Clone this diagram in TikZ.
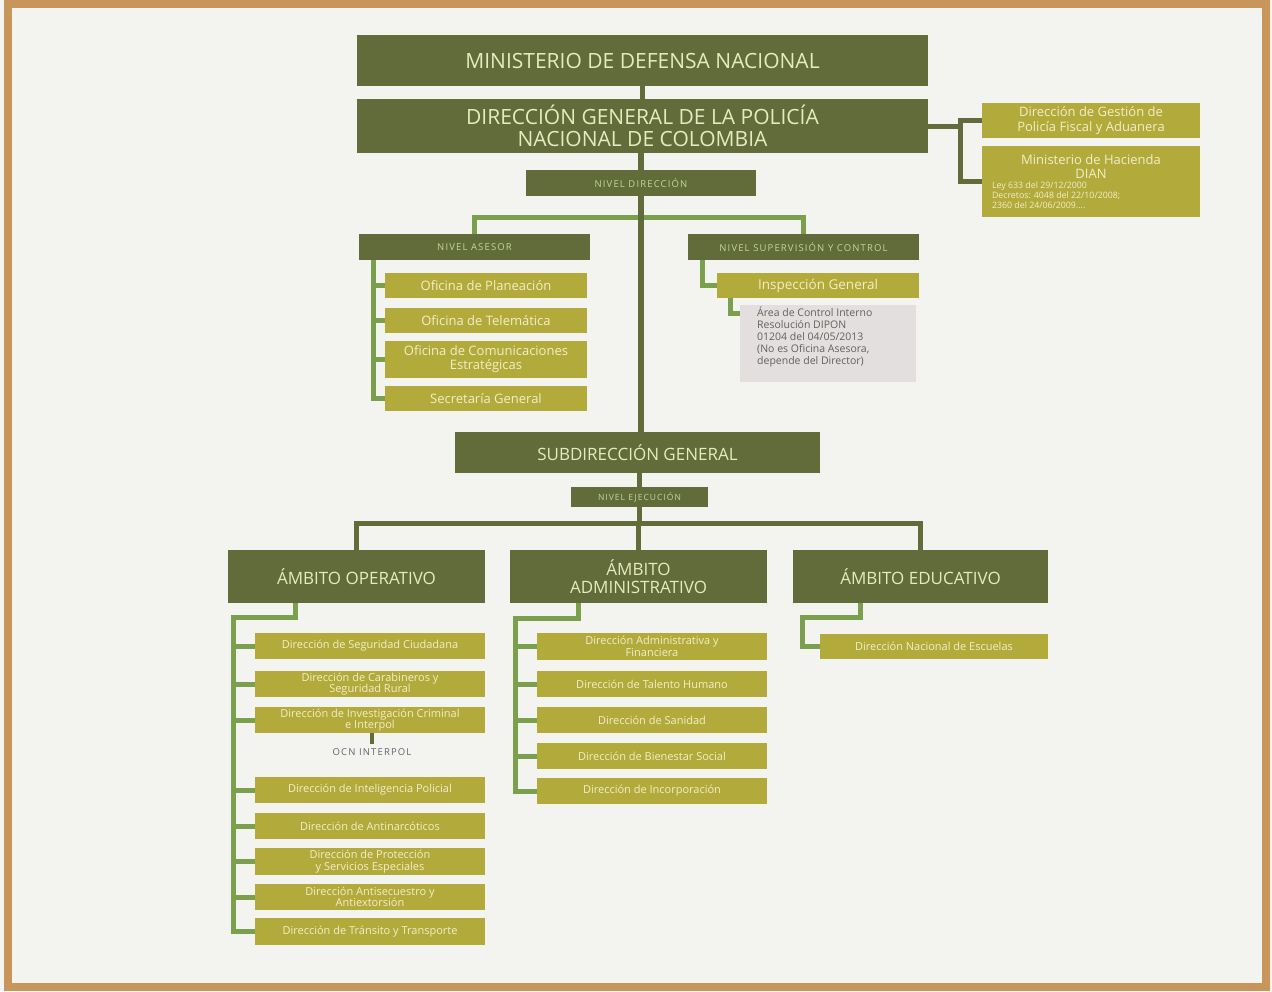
\documentclass[tikz,border=0pt]{standalone}
\usepackage{fontspec}
\setmainfont{Open Sans}
\newfontfamily\spacedfont[LetterSpace=12]{Open Sans}
\usetikzlibrary{calc,backgrounds}
\definecolor{oliveD}{RGB}{97,108,58}
\definecolor{yelB}{RGB}{178,171,60}
\definecolor{lgreen}{RGB}{122,160,78}
\definecolor{dtext}{RGB}{230,234,192}
\definecolor{ytext}{RGB}{242,238,200}
\definecolor{nivtext}{RGB}{195,214,155}
\definecolor{greyB}{RGB}{226,223,222}
\definecolor{greyT}{RGB}{100,96,94}
\definecolor{slateT}{RGB}{95,102,112}
\definecolor{pagebg}{RGB}{243,243,240}
\definecolor{frameC}{RGB}{200,150,90}
\begin{document}
\begin{tikzpicture}[x=1pt,y=-1pt,
  dbox/.style={fill=oliveD, text=dtext, inner sep=0pt, outer sep=0pt, align=center},
  ybox/.style={fill=yelB, text=ytext, inner sep=0pt, outer sep=0pt, align=center},
  niv/.style={dbox, text=nivtext, font=\spacedfont\fontsize{9.5}{10}\selectfont},
  asechild/.style={ybox, minimum width=202, minimum height=25, font=\fontsize{13}{14}\selectfont},
  ambito/.style={dbox, minimum width=257, minimum height=53, font=\fontsize{17}{18}\selectfont},
  dchild/.style={ybox, minimum width=230, minimum height=26, font=\fontsize{11}{11.5}\selectfont},
  trunk/.style={draw=oliveD, line width=5.5pt, line cap=rect},
  gline/.style={draw=lgreen, line width=5pt, line cap=rect}
]
\useasboundingbox (0,0) rectangle (1272,991);
\begin{scope}[on background layer]
  \fill[pagebg] (0,0) rectangle (1272,991);
\end{scope}

% top level
\node[dbox, minimum width=571, minimum height=51, font=\fontsize{21}{24}\selectfont] (min) at (642.5,60.5) {MINISTERIO DE DEFENSA NACIONAL};
\node[dbox, minimum width=571, minimum height=54, font=\fontsize{21}{22.5}\selectfont] (dg) at (642.5,126) {DIRECCIÓN GENERAL DE LA POLICÍA\\NACIONAL DE COLOMBIA};
\node[niv, minimum width=230, minimum height=26] (ndir) at (641,183) {NIVEL DIRECCIÓN};

% right side
\node[ybox, minimum width=218, minimum height=35, font=\fontsize{13}{15}\selectfont] (gest) at (1091,120.5) {Dirección de Gestión de\\Policía Fiscal y Aduanera};
\node[ybox, minimum width=218, minimum height=71] (hac) at (1091,181.5) {\begin{minipage}{198pt}
{\centering\fontsize{13}{14}\selectfont Ministerio de Hacienda\\DIAN\par}
{\raggedright\fontsize{8.8}{10}\selectfont Ley 633 del 29/12/2000\\Decretos: 4048 del 22/10/2008;\\2360 del 24/06/2009....\par}
\end{minipage}};

% level 2
\node[niv, minimum width=231, minimum height=26] (ase) at (474.5,247) {NIVEL ASESOR};
\node[niv, minimum width=231, minimum height=26] (sup) at (803.5,247) {NIVEL SUPERVISIÓN Y CONTROL};

\node[asechild] (plan) at (486,285.5) {Oficina de Planeación};
\node[asechild] (tele) at (486,320.5) {Oficina de Telemática};
\node[asechild, minimum height=37] (comu) at (486,359.5) {Oficina de Comunicaciones\\Estratégicas};
\node[asechild] (secr) at (486,398.5) {Secretaría General};

\node[ybox, minimum width=202, minimum height=25, font=\fontsize{13.5}{14}\selectfont] (insp) at (818,285.5) {Inspección General};
\node[fill=greyB, inner sep=0pt, outer sep=0pt, minimum width=176, minimum height=77] (area) at (828,343.5) {};
\node[anchor=north west, inner sep=0pt, align=left, text=greyT, font=\fontsize{10.5}{12}\selectfont] (areatxt) at ($(area.north west)+(17,2)$) {Área de Control Interno\\Resolución DIPON\\01204 del 04/05/2013\\(No es Oficina Asesora,\\depende del Director)};

% subdireccion
\node[dbox, minimum width=365, minimum height=41, font=\fontsize{17}{18}\selectfont] (subd) at (637.5,452.5) {SUBDIRECCIÓN GENERAL};
\node[niv, minimum width=137, minimum height=20, font=\spacedfont\fontsize{8.5}{9}\selectfont] (nejec) at (639.5,497) {NIVEL EJECUCIÓN};

% ambitos
\node[ambito] (oper) at (356.5,576.5) {ÁMBITO OPERATIVO};
\node[ambito, font=\fontsize{17}{18}\selectfont] (adm) at (638.5,576.5) {ÁMBITO\\ADMINISTRATIVO};
\node[ambito, minimum width=255] (edu) at (920.5,576.5) {ÁMBITO EDUCATIVO};

% operativo children
\node[dchild] (c1) at (370,646) {Dirección de Seguridad Ciudadana};
\node[dchild] (c2) at (370,684) {Dirección de Carabineros y\\Seguridad Rural};
\node[dchild] (c3) at (370,720) {Dirección de Investigación Criminal\\e Interpol};
\node[inner sep=4pt, text=slateT, font=\spacedfont\fontsize{9.5}{10}\selectfont] (ocn) at (372,752) {OCN INTERPOL};
\node[dchild] (c4) at (370,790) {Dirección de Inteligencia Policial};
\node[dchild] (c5) at (370,826) {Dirección de Antinarcóticos};
\node[dchild, minimum height=27] (c6) at (370,861.5) {Dirección de Protección\\y Servicios Especiales};
\node[dchild] (c7) at (370,897) {Dirección Antisecuestro y\\Antiextorsión};
\node[dchild, minimum height=27] (c8) at (370,931.5) {Dirección de Tránsito y Transporte};

% administrativo children
\node[dchild, minimum height=27] (a1) at (652,646.5) {Dirección Administrativa y\\Financiera};
\node[dchild] (a2) at (652,684) {Dirección de Talento Humano};
\node[dchild] (a3) at (652,720) {Dirección de Sanidad};
\node[dchild] (a4) at (652,756) {Dirección de Bienestar Social};
\node[dchild] (a5) at (652,791) {Dirección de Incorporación};

% educativo child
\node[dchild, minimum width=228, minimum height=25] (e1) at (934,646.5) {Dirección Nacional de Escuelas};

% connector helper coordinates
\coordinate (rb) at (960,126);
\coordinate (b2) at (641,217);
\coordinate (ab) at (373,262);
\coordinate (s1) at (702,262);
\coordinate (s2) at (730,313);
\coordinate (eb) at (640,523);
\coordinate (ob) at (295,617);
\coordinate (ov) at (233,617);
\coordinate (db) at (578,618);
\coordinate (dv) at (515,618);
\coordinate (edb) at (860,617);
\coordinate (edv) at (802,617);

\begin{scope}[on background layer]
  % trunk
  \draw[trunk] (min.south) -- (dg.north);
  \draw[trunk] (dg.south -| ndir.north) -- (ndir.north);
  \draw[gline] (ase.north) -- (ase.north |- b2) -- (sup.north |- b2) -- (sup.north);
  \draw[trunk] (ndir.south) -- (ndir.south |- subd.north);
  \draw[trunk] (subd.south -| nejec.north) -- (nejec.north);
  \draw[trunk] (nejec.south) -- (nejec.south |- eb);
  % right side
  \draw[trunk, line width=5pt] (dg.east) -- (dg.east -| rb);
  \draw[trunk, line width=5pt] (gest.west) -- (gest.west -| rb) -- (hac.west -| rb) -- (hac.west);
  % asesor
  \draw[gline] (ase.south -| ab) -- (ab |- secr.west) -- (secr.west);
  \draw[gline] (ab |- plan.west) -- (plan.west);
  \draw[gline] (ab |- tele.west) -- (tele.west);
  \draw[gline] (ab |- comu.west) -- (comu.west);
  % supervision
  \draw[gline] (sup.south -| s1) -- (s1 |- insp.west) -- (insp.west);
  \draw[gline] (insp.south -| s2) -- (s2) -- (s2 -| area.west);
  % ejecucion bus
  \draw[trunk, line width=5pt] (oper.north) -- (oper.north |- eb) -- (edu.north |- eb) -- (edu.north);
  \draw[trunk, line width=5pt] (adm.north |- eb) -- (adm.north);
  % operativo
  \draw[gline] (oper.south -| ob) -- (ob) -- (ov) -- (ov |- c8.west) -- (c8.west);
  \foreach \n in {c1,c2,c3,c4,c5,c6,c7} \draw[gline] (ov |- \n.west) -- (\n.west);
  \draw[draw=oliveD, line width=4pt] (c3.south -| ocn.north) -- (ocn.north);
  % administrativo
  \draw[gline] (adm.south -| db) -- (db) -- (dv) -- (dv |- a5.west) -- (a5.west);
  \foreach \n in {a1,a2,a3,a4} \draw[gline] (dv |- \n.west) -- (\n.west);
  % educativo
  \draw[gline] (edu.south -| edb) -- (edb) -- (edv) -- (edv |- e1.west) -- (e1.west);
\end{scope}

% frame
\draw[frameC, line width=8pt] (8,4) rectangle (1266,987);
\end{tikzpicture}
\end{document}
